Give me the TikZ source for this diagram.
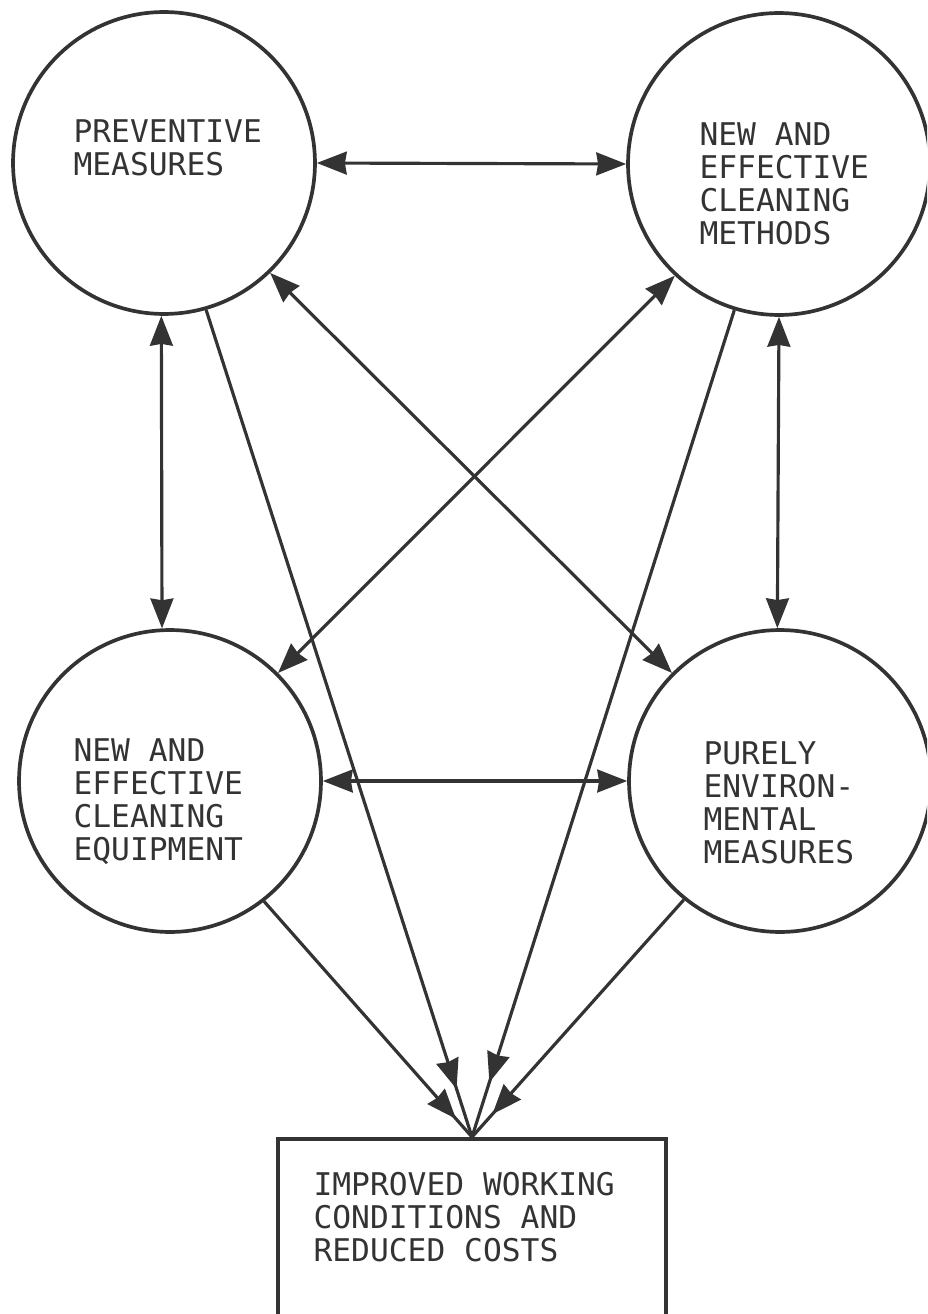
\documentclass[tikz,border=0pt]{standalone}
\usepackage{fontspec}
\newfontfamily\diagfont{DejaVu Sans Mono}
\usetikzlibrary{arrows.meta,decorations.markings}

\begin{document}
\begin{tikzpicture}[x=0.02cm,y=-0.02cm,line width=1.8pt,color=black!80,
  >={Stealth[length=17pt,width=13pt,inset=1pt]},
  circ/.style={circle,draw,line width=2.1pt,minimum size=6.04cm,inner sep=0pt},
  lbl/.style={anchor=north west,inner sep=0pt,align=left,font=\diagfont\fontsize{17.8}{18.8}\selectfont},
  tobox/.style={postaction={decorate},decoration={markings,mark=at position #1 with {\arrow{>}}}}]

\clip (0,0) rectangle (927,1314);

\node[circ] (prev) at (164,163) {};
\node[circ] (meth) at (779,164) {};
\node[circ] (equip) at (170,781) {};
\node[circ] (env) at (780,781) {};
\node[draw,line width=2.4pt,anchor=north,minimum width=7.76cm,minimum height=5cm] (goal) at (472,1137) {};

\node[lbl] (prevtext) at (72,118) {PREVENTIVE\\MEASURES};
\node[lbl] (methtext) at (698,121) {NEW AND\\EFFECTIVE\\CLEANING\\METHODS};
\node[lbl] (equiptext) at (72,737) {NEW AND\\EFFECTIVE\\CLEANING\\EQUIPMENT};
\node[lbl] (envtext) at (702,740) {PURELY\\ENVIRON-\\MENTAL\\MEASURES};
\node[lbl] (goaltext) at (312,1171) {IMPROVED WORKING\\CONDITIONS AND\\REDUCED COSTS};

\draw [<->] (prev.east) -- (meth.west);
\draw [<->] (equip.east) -- (env.west);
\draw [<->] (prev.-91) -- (equip.93);
\draw [<->] (meth.-90) -- (env.91);
\draw [<->] (prev.-46) -- (env.135);
\draw [<->] (meth.227) -- (equip.45);

\draw [tobox=0.942] (prev.-74) -- (goal.north);
\draw [tobox=0.934] (meth.-107) -- (goal.north);
\draw [tobox=0.923] (equip.-52) -- (goal.north);
\draw [tobox=0.904] (env.231) -- (goal.north);

\end{tikzpicture}
\end{document}
